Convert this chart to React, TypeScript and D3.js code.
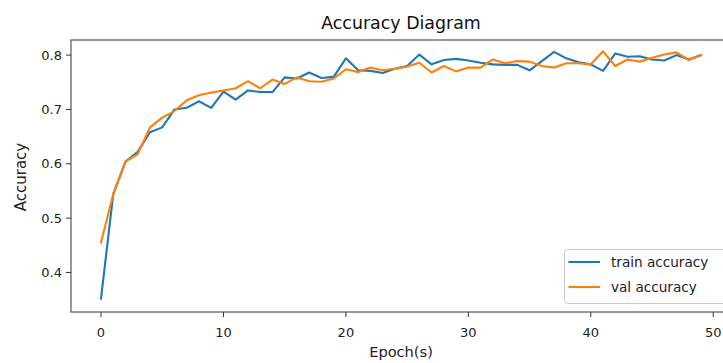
import React from "react";
import * as d3 from "d3";

const epochs: number[] = Array.from({ length: 50 }, (_, i) => i);

const trainAccuracy: number[] = [
  0.352, 0.544, 0.604, 0.622, 0.658, 0.667, 0.700, 0.703, 0.715, 0.703,
  0.733, 0.718, 0.735, 0.732, 0.732, 0.759, 0.757, 0.768, 0.758, 0.760,
  0.794, 0.772, 0.771, 0.767, 0.775, 0.780, 0.801, 0.783, 0.791, 0.793,
  0.790, 0.786, 0.783, 0.782, 0.782, 0.772, 0.789, 0.806, 0.794, 0.787,
  0.783, 0.771, 0.803, 0.797, 0.798, 0.792, 0.790, 0.800, 0.792, 0.800,
];

const valAccuracy: number[] = [
  0.455, 0.544, 0.604, 0.618, 0.667, 0.685, 0.697, 0.717, 0.726, 0.731,
  0.735, 0.739, 0.752, 0.739, 0.755, 0.747, 0.759, 0.752, 0.751, 0.757,
  0.774, 0.769, 0.777, 0.772, 0.775, 0.779, 0.786, 0.768, 0.780, 0.770,
  0.777, 0.777, 0.792, 0.785, 0.789, 0.788, 0.780, 0.777, 0.785, 0.785,
  0.783, 0.807, 0.780, 0.792, 0.788, 0.795, 0.801, 0.805, 0.791, 0.800,
];

const xTicks: number[] = [0, 10, 20, 30, 40, 50];
const yTicks: number[] = [0.4, 0.5, 0.6, 0.7, 0.8];
const seriesNames: string[] = ["train accuracy", "val accuracy"];
const seriesColors: string[] = ["#1f77b4", "#ff7f0e"];

const W = 723;
const H = 363;
const FONT = "'DejaVu Sans', sans-serif";

export default function App() {
  const left = 71;
  const right = 731;
  const top = 40;
  const bottom = 312;

  const x = d3.scaleLinear().domain([-2.45, 51.45]).range([left, right]);
  const y = d3.scaleLinear().domain([0.3272, 0.8278]).range([bottom, top]);

  const line = d3
    .line<number>()
    .x((_, i) => x(epochs[i]))
    .y((d) => y(d));

  const series = [trainAccuracy, valAccuracy];

  const legX = 564.5;
  const legY = 249.5;
  const legW = 162;
  const legH = 54;

  return (
    <svg
      width={W}
      height={H}
      style={{ position: "absolute", left: 0, top: 0, background: "#fff" }}
      fontFamily={FONT}
    >
      <rect x={0} y={0} width={W} height={H} fill="#fff" />
      <text
        x={(left + right) / 2}
        y={29}
        textAnchor="middle"
        fontSize={17.4}
        fill="#111"
      >
        Accuracy Diagram
      </text>

      {series.map((s, k) => (
        <path
          key={k}
          d={line(s) || ""}
          fill="none"
          stroke={seriesColors[k]}
          strokeWidth={2.1}
          strokeLinejoin="round"
          strokeLinecap="square"
        />
      ))}

      <rect
        x={left}
        y={top}
        width={right - left}
        height={bottom - top}
        fill="none"
        stroke="#333"
        strokeWidth={1}
      />

      {xTicks.map((t) => (
        <g key={t}>
          <line x1={x(t)} x2={x(t)} y1={bottom} y2={bottom + 5} stroke="#333" strokeWidth={1} />
          <text x={x(t)} y={bottom + 25} textAnchor="middle" fontSize={13} fill="#222">
            {t}
          </text>
        </g>
      ))}
      {yTicks.map((t) => (
        <g key={t}>
          <line x1={left - 5} x2={left} y1={y(t)} y2={y(t)} stroke="#333" strokeWidth={1} />
          <text x={left - 9} y={y(t) + 4.5} textAnchor="end" fontSize={13} fill="#222">
            {d3.format(".1f")(t)}
          </text>
        </g>
      ))}

      <text x={(left + right) / 2} y={357} textAnchor="middle" fontSize={14.6} fill="#222">
        Epoch(s)
      </text>
      <text
        transform={`translate(26, ${(top + bottom) / 2 + 1}) rotate(-90)`}
        textAnchor="middle"
        fontSize={15}
        fill="#222"
      >
        Accuracy
      </text>

      <g>
        <rect
          x={legX}
          y={legY}
          width={legW}
          height={legH}
          rx={3}
          fill="#fff"
          fillOpacity={0.8}
          stroke="#ccc"
          strokeWidth={1}
        />
        {seriesNames.map((n, k) => (
          <g key={n}>
            <line
              x1={legX + 4}
              x2={legX + 35.5}
              y1={legY + 12.5 + k * 25}
              y2={legY + 12.5 + k * 25}
              stroke={seriesColors[k]}
              strokeWidth={2.1}
            />
            <text x={legX + 46.5} y={legY + 17.5 + k * 25} fontSize={13.6} fill="#222">
              {n}
            </text>
          </g>
        ))}
      </g>
    </svg>
  );
}
